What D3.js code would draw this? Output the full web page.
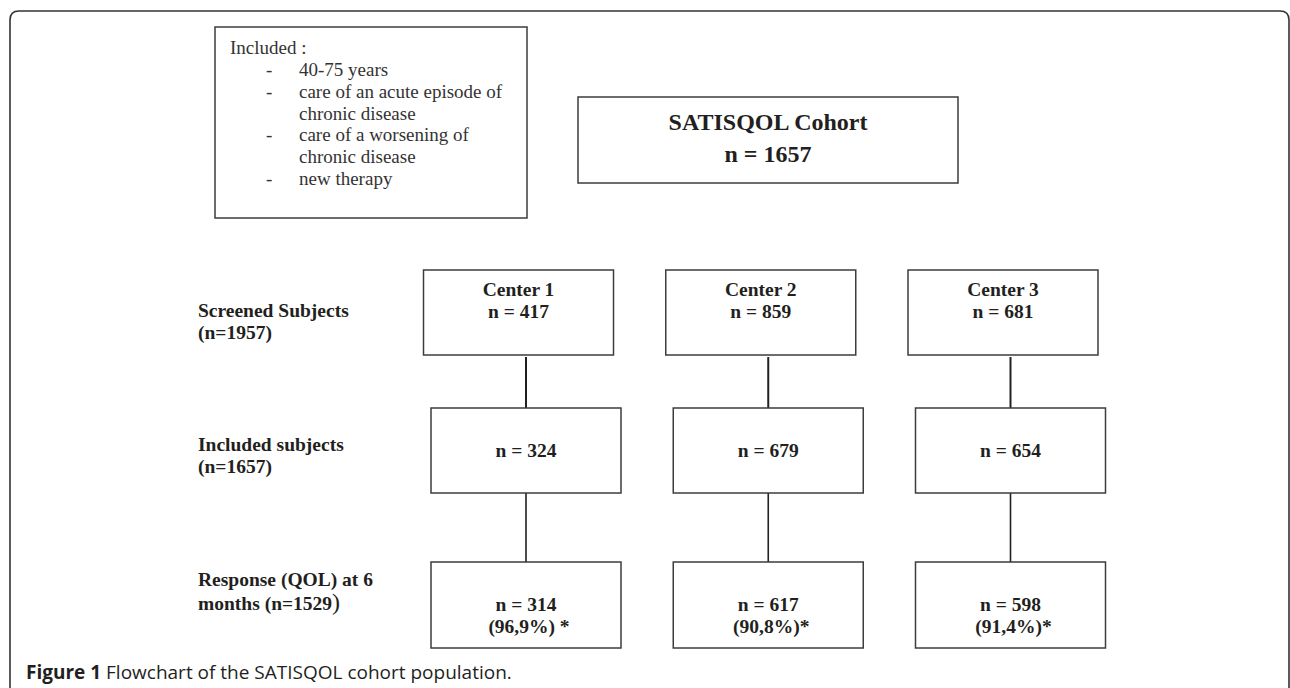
<!DOCTYPE html>
<html>
<head>
<meta charset="utf-8">
<script src="https://cdn.jsdelivr.net/npm/d3@7"></script>
<style>
    body { margin: 0; background: #fff; }
    svg { display: block; }
</style>
</head>
<body>
<div id="chart"></div>
<script>

// ---------------------------
// DATA
// ---------------------------

const centers = ["Center 1", "Center 2", "Center 3"];
const screened = [417, 859, 681];
const included = [324, 679, 654];
const responded = [314, 617, 598];
const responsePct = ["96,9%", "90,8%", "91,4%"];
const pctSuffix = [" *", "*", "*"];

const cohortTitle = "SATISQOL Cohort";
const cohortN = 1657;

const rowNames = ["screened", "included", "response"];
const rowLabels = [
    ["Screened Subjects", "(n=1957)"],
    ["Included subjects", "(n=1657)"],
    ["Response (QOL) at 6", "months (n=1529"]
];

const criteriaTitle = "Included :";
const criteria = [
    ["40-75 years"],
    ["care of an acute episode of", "chronic disease"],
    ["care of a worsening of", "chronic disease"],
    ["new therapy"]
];

const caption = ["Figure 1", " Flowchart of the SATISQOL cohort population."];

// ---------------------------
// SETUP
// ---------------------------

const width = 1290;
const height = 688;
const ink = "#231f20";
const boxStroke = "#3d3d3d";
const serif = "'Liberation Serif', 'Times New Roman', serif";

const svg = d3.select("#chart")
    .append("svg")
    .attr("width", width)
    .attr("height", height);

// column centre of each center (rows 2 and 3), row 1 sits a bit to the left
const xCol = d3.scaleLinear()
    .domain([0, 2])
    .range([526, 1010.5]);

const rowShift = d3.scaleOrdinal()
    .domain(rowNames)
    .range([-7.5, 0, 0]);

const yTop = d3.scaleOrdinal()
    .domain(rowNames)
    .range([270, 408, 562]);

const textStart = d3.scaleOrdinal()
    .domain(rowNames)
    .range([26, 49, 49]);

const labelY = d3.scaleOrdinal()
    .domain(rowNames)
    .range([317, 451, 586]);

const boxW = 190;
const boxH = 85;

// ---------------------------
// OUTER FRAME
// ---------------------------

const r = 9;
svg.append("path")
    .attr("d", `M10,${height + 2} L10,${11 + r} Q10,11 ${10 + r},11 L${1289 - r},11 Q1289,11 1289,${11 + r} L1289,${height + 2}`)
    .attr("fill", "none")
    .attr("stroke", "#333")
    .attr("stroke-width", 1.6);

// ---------------------------
// INCLUSION CRITERIA BOX
// ---------------------------

const crit = svg.append("g").attr("class", "criteria");

crit.append("rect")
    .attr("x", 215).attr("y", 27)
    .attr("width", 312).attr("height", 191)
    .attr("fill", "none")
    .attr("stroke", boxStroke)
    .attr("stroke-width", 1.5);

// flatten the list into lines, dash only on first line of each item
const critLines = [{ text: criteriaTitle, dash: false, title: true }];
criteria.forEach(item => {
    item.forEach((line, i) => critLines.push({ text: line, dash: i === 0, title: false }));
});

const yLine = d3.scaleLinear()
    .domain([0, critLines.length - 1])
    .range([54, 185]);

crit.selectAll(".critText")
    .data(critLines)
    .join("text")
    .attr("class", "critText")
    .attr("x", d => d.title ? 230 : 299)
    .attr("y", (d, i) => yLine(i))
    .attr("font-family", serif)
    .attr("font-size", "19px")
    .attr("fill", "#333")
    .text(d => d.text);

crit.selectAll(".critDash")
    .data(critLines.filter(d => d.dash))
    .join("text")
    .attr("class", "critDash")
    .attr("x", 266)
    .attr("y", d => yLine(critLines.indexOf(d)))
    .attr("font-family", serif)
    .attr("font-size", "19px")
    .attr("fill", "#333")
    .text("-");

// ---------------------------
// COHORT BOX
// ---------------------------

const cohort = svg.append("g").attr("class", "cohort");

cohort.append("rect")
    .attr("x", 578).attr("y", 97)
    .attr("width", 380).attr("height", 86)
    .attr("fill", "none")
    .attr("stroke", boxStroke)
    .attr("stroke-width", 1.5);

cohort.selectAll("text")
    .data([cohortTitle, `n = ${cohortN}`])
    .join("text")
    .attr("x", 768)
    .attr("y", (d, i) => 130 + i * 32)
    .attr("text-anchor", "middle")
    .attr("font-family", serif)
    .attr("font-weight", "bold")
    .attr("font-size", "24px")
    .attr("fill", ink)
    .text(d => d);

// ---------------------------
// CENTER BOXES
// ---------------------------

const boxes = [];
centers.forEach((c, i) => {
    boxes.push({ row: "screened", col: i, lines: [c, `n = ${screened[i]}`] });
    boxes.push({ row: "included", col: i, lines: [`n = ${included[i]}`] });
    boxes.push({ row: "response", col: i, lines: [`n = ${responded[i]}`, `(${responsePct[i]})${pctSuffix[i]}`] });
});

const cx = d => xCol(d.col) + rowShift(d.row);

// connectors first so boxes sit on top
centers.forEach((c, i) => {
    svg.append("line")
        .attr("x1", xCol(i)).attr("x2", xCol(i))
        .attr("y1", yTop("screened") + boxH + 2)
        .attr("y2", yTop("included"))
        .attr("stroke", ink)
        .attr("stroke-width", 2);
    svg.append("line")
        .attr("x1", xCol(i)).attr("x2", xCol(i))
        .attr("y1", yTop("included") + boxH)
        .attr("y2", yTop("response"))
        .attr("stroke", ink)
        .attr("stroke-width", 1.6);
});

const boxG = svg.selectAll(".box")
    .data(boxes)
    .join("g")
    .attr("class", "box");

boxG.append("rect")
    .attr("x", d => cx(d) - boxW / 2)
    .attr("y", d => yTop(d.row))
    .attr("width", boxW)
    .attr("height", d => d.row === "response" ? boxH + 1 : boxH)
    .attr("fill", "#fff")
    .attr("stroke", boxStroke)
    .attr("stroke-width", 1.5);

boxG.selectAll("text")
    .data(d => d.lines.map((t, j) => ({ t, j, d })))
    .join("text")
    .attr("x", e => cx(e.d) + (e.j === 1 && e.d.row === "response" ? 3 : 0))
    .attr("y", e => yTop(e.d.row) + textStart(e.d.row) + e.j * 22)
    .attr("text-anchor", "middle")
    .attr("font-family", serif)
    .attr("font-weight", "bold")
    .attr("font-size", "19.5px")
    .attr("fill", ink)
    .text(e => e.t);

// ---------------------------
// ROW LABELS
// ---------------------------

const labels = svg.selectAll(".rowLabel")
    .data(rowNames.map((n, i) => ({ n, lines: rowLabels[i] })))
    .join("g")
    .attr("class", "rowLabel");

labels.selectAll("text")
    .data(d => d.lines.map((t, j) => ({ t, j, n: d.n })))
    .join("text")
    .attr("x", 198)
    .attr("y", e => labelY(e.n) + e.j * (e.n === "response" ? 24 : 22))
    .attr("font-family", serif)
    .attr("font-weight", "bold")
    .attr("font-size", "19.5px")
    .attr("fill", ink)
    .text(e => e.t);

// the oversized closing bracket on the last label
svg.select(".rowLabel:last-child text:last-child")
    .append("tspan")
    .attr("font-size", "24px")
    .attr("font-weight", "normal")
    .text(")");

// ---------------------------
// CAPTION
// ---------------------------

const cap = svg.append("text")
    .attr("x", 26)
    .attr("y", 679)
    .attr("font-family", "'Open Sans', Lato, sans-serif")
    .attr("font-size", "19px")
    .attr("fill", ink);

cap.append("tspan").attr("font-weight", "bold").text(caption[0]);
cap.append("tspan").text(caption[1]);

</script>
</body>
</html>
